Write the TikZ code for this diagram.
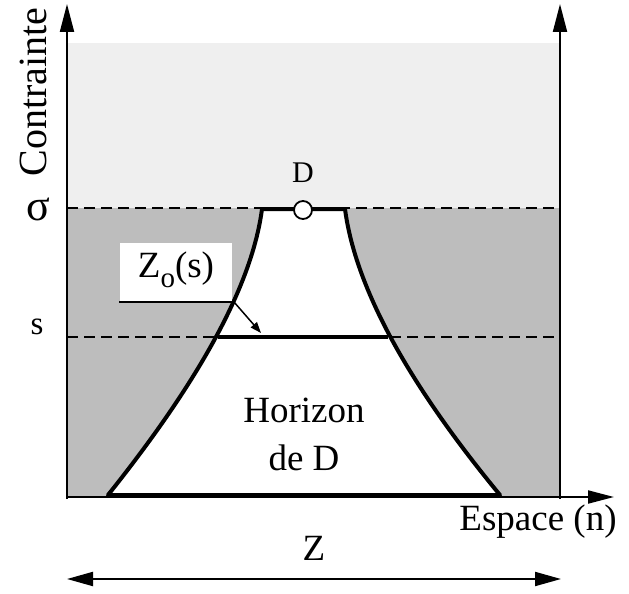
\documentclass[tikz,border=0pt]{standalone}
\usepackage{fontspec}
\setmainfont{Liberation Serif}
\usetikzlibrary{arrows.meta}
\definecolor{lightbg}{HTML}{EFEFEF}
\definecolor{darkbg}{HTML}{BDBDBD}
\begin{document}
\begin{tikzpicture}[x=1pt,y=-1pt,
  bigtxt/.style={font=\fontsize{37}{40}\selectfont, inner sep=0pt},
  axis/.style={line width=2pt, -{Triangle[length=28pt,width=14pt]}},
  thickline/.style={line width=4pt},
  dashline/.style={line width=1.3pt, dash pattern=on 11pt off 6pt}]
\useasboundingbox (0,0) rectangle (629,594);
% backgrounds
\fill[lightbg] (67,43) rectangle (560,208);
\fill[darkbg] (67,208) rectangle (560,497);
% dashed levels
\coordinate (sigL) at (67,208);
\coordinate (sigR) at (560,208);
\coordinate (sL) at (67,337);
\coordinate (sR) at (560,337);
\draw[dashline] (sigL) -- (sigR);
\draw[dashline] (sL) -- (sR);
% horizon region
\coordinate (bl) at (108,495);
\coordinate (tl) at (262,209);
\coordinate (tr) at (345,209);
\coordinate (br) at (500,495);
\filldraw[fill=white, thickline, line join=round]
  (bl) .. controls (200,380) and (252,285) .. (tl) -- (tr)
  .. controls (355,285) and (405,380) .. (br) -- cycle;
% s level thick line
\coordinate (zl) at (218,337);
\coordinate (zr) at (388,337);
\draw[thickline] (zl) -- (zr);
% axes
\coordinate (o) at (67,499);
\coordinate (ytop) at (67,4);
\coordinate (rbot) at (560,499);
\coordinate (rtop) at (560,4);
\coordinate (xend) at (614,497);
\draw[axis] (o) -- (ytop);
\draw[axis] (rbot) -- (rtop);
\draw[line width=2pt, -{Triangle[length=26pt,width=13pt]}] (66,497) -- (xend);
% D point
\node[circle, draw, line width=1.8pt, fill=white, minimum size=18pt, inner sep=0pt] (D) at (303,210) {};
\node[font=\fontsize{30}{32}\selectfont] (Dlab) at (303,173) {D};
% labels
\node[font=\fontsize{40}{44}\selectfont, inner sep=0pt, rotate=90] (contr) at (33,92) {Contrainte};
\node[font=\fontsize{44}{46}\selectfont, inner sep=0pt] (sig) at (38,209) {σ};
\node[font=\fontsize{33}{35}\selectfont] (slab) at (37,327) {s};
\node[bigtxt] (hor) at (304,410) {Horizon};
\node[bigtxt] (deD) at (304,458) {de D};
\node[bigtxt] (esp) at (538,522) {Espace (n)};
\node[bigtxt] (Z) at (314,548) {Z};
% Z arrow
\coordinate (zal) at (67,579);
\coordinate (zar) at (561,579);
\draw[line width=2pt, {Triangle[length=26pt,width=14pt]}-{Triangle[length=26pt,width=14pt]}] (zal) -- (zar);
% Zo(s) label
\fill[white] (120,243) rectangle (232,302);
\node[bigtxt] (zo) at (176,270) {Z\raisebox{-0.28em}{\fontsize{29}{30}\selectfont o}(s)};
\coordinate (ulL) at (119,302);
\coordinate (ulR) at (234,302);
\draw[line width=1.5pt] (ulL) -- (ulR);
\draw[line width=1.5pt, -{Triangle[length=11pt,width=8pt]}] (ulR) -- (261,333);
\end{tikzpicture}
\end{document}
